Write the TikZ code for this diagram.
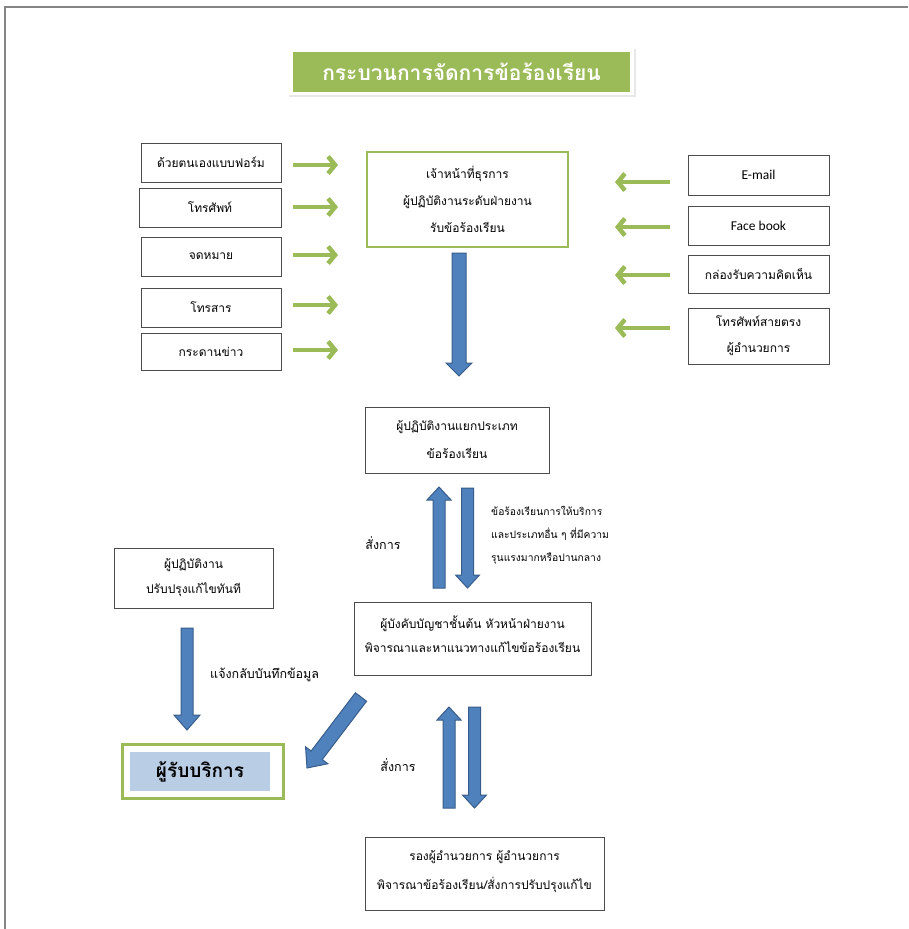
\documentclass[tikz,border=0pt]{standalone}
\usepackage{fontspec}
\setmainfont[Script=Thai]{Loma}
\newfontfamily\latinfont{Carlito}
\usetikzlibrary{arrows.meta,calc,shadows}
\definecolor{ogreen}{HTML}{9BBB59}
\definecolor{oblue}{HTML}{4F81BD}
\definecolor{oblued}{HTML}{385D8A}
\definecolor{olight}{HTML}{B9CDE5}
\definecolor{oframe}{HTML}{858585}
\tikzset{
  box/.style={draw=black!70, line width=0.9pt, fill=white, align=center, inner sep=0pt,
    font=\fontsize{12}{15}\selectfont},
  gbox/.style={box, draw=ogreen, line width=2.6pt},
  garrow/.style={draw=ogreen, line width=4.5pt, -{Straight Barb[length=7pt,width=17pt]}},
  lbl/.style={inner sep=0pt, font=\fontsize{12.5}{15}\selectfont},
  small/.style={inner sep=0pt, align=left, font=\fontsize{10.3}{23}\selectfont},
}
\newcommand\blockarr[5]{%
  \coordinate (ba-h) at ($(#2)!#5!(#1)$);
  \filldraw[fill=oblue, draw=oblued, line width=1pt, line join=miter]
    ($(#1)!#3!90:(#2)$) -- ($(ba-h)!#3!90:(#2)$) -- ($(ba-h)!#4!90:(#2)$) -- (#2)
    -- ($(ba-h)!#4!-90:(#2)$) -- ($(ba-h)!#3!-90:(#2)$) -- ($(#1)!#3!-90:(#2)$) -- cycle;
}
\begin{document}
\begin{tikzpicture}[x=1pt,y=-1pt]
\useasboundingbox (0,0) rectangle (908,929);
\fill[white] (0,0) rectangle (908,929);
% frame
\draw[oframe, line width=2pt] (5,929) -- (5,7) -- (908,7);
% title
\fill[black!9] (289,49) rectangle (636,97);
\fill[white] (287,47) rectangle (634,95);
\node[fill=ogreen, minimum width=337, minimum height=40, inner sep=0pt,
  text=white, font=\fontsize{21}{24}\selectfont\bfseries] (title) at (461.5,72) {กระบวนการจัดการข้อร้องเรียน};
% left boxes
\node[box, minimum width=140, minimum height=39] (l1) at (211,162.5) {ด้วยตนเองแบบฟอร์ม};
\node[box, minimum width=142, minimum height=39] (l2) at (210,207.5) {โทรศัพท์};
\node[box, minimum width=140, minimum height=39] (l3) at (211,256.5) {จดหมาย};
\node[box, minimum width=140, minimum height=39] (l4) at (211,307.5) {โทรสาร};
\node[box, minimum width=140, minimum height=37] (l5) at (211,351.5) {กระดานข่าว};
% right boxes
\node[box, minimum width=141, minimum height=40, font=\latinfont\fontsize{13.5}{16}\selectfont] (r1) at (758.5,175) {E-mail};
\node[box, minimum width=141, minimum height=39, font=\latinfont\fontsize{13.5}{16}\selectfont] (r2) at (758.5,225.5) {Face book};
\node[box, minimum width=141, minimum height=38] (r3) at (758.5,274) {กล่องรับความคิดเห็น};
\node[box, minimum width=141, minimum height=56] (r4) at (758.5,336) {โทรศัพท์สายตรง\\[11pt]ผู้อำนวยการ};
% center top
\node[gbox, minimum width=201, minimum height=95] (c1) at (467.5,199.5)
  {เจ้าหน้าที่ธุรการ\\[12pt]ผู้ปฏิบัติงานระดับฝ่ายงาน\\[12pt]รับข้อร้องเรียน};
% green arrows
\foreach \y [count=\i] in {165,207,255,305,350}
  \coordinate (gl\i) at (293,\y);
\foreach \y [count=\i] in {165,207,255,305,350}
  \coordinate (glt\i) at (338,\y);
\foreach \i in {1,...,5} \draw[garrow] (gl\i) -- (glt\i);
\foreach \y [count=\i] in {182,227,275,328}
  \coordinate (gr\i) at (670,\y);
\foreach \y [count=\i] in {182,227,275,328}
  \coordinate (grt\i) at (615,\y);
\foreach \i in {1,...,4} \draw[garrow] (gr\i) -- (grt\i);
% middle box
\node[box, minimum width=184, minimum height=66] (m1) at (457,440)
  {ผู้ปฏิบัติงานแยกประเภท\\[13pt]ข้อร้องเรียน};
\coordinate (a1s) at (459,253); \coordinate (a1t) at (459,376);
\blockarr{a1s}{a1t}{7pt}{13pt}{13pt}
% chief box
\node[box, minimum width=237, minimum height=73] (m2) at (472.5,638.5)
  {ผู้บังคับบัญชาชั้นต้น หัวหน้าฝ่ายงาน\\[9pt]พิจารณาและหาแนวทางแก้ไขข้อร้องเรียน\\[-6pt]\mbox{}};
\coordinate (a2s) at (439,588); \coordinate (a2t) at (439,487);
\blockarr{a2s}{a2t}{6pt}{12pt}{13pt}
\coordinate (a3s) at (467.5,488); \coordinate (a3t) at (467.5,588);
\blockarr{a3s}{a3t}{6pt}{12pt}{13pt}
\node[lbl] (t1) at (383,543) {สั่งการ};
\node[small, anchor=north west] (t2) at (491,506)
  {ข้อร้องเรียนการให้บริการ\\และประเภทอื่น ๆ ที่มีความ\\รุนแรงมากหรือปานกลาง};
% worker box
\node[box, minimum width=159, minimum height=60] (w1) at (193.5,578)
  {ผู้ปฏิบัติงาน\\[10pt]ปรับปรุงแก้ไขทันที};
\coordinate (a4s) at (187,628); \coordinate (a4t) at (187,730);
\blockarr{a4s}{a4t}{6pt}{13pt}{15pt}
\node[lbl, anchor=west] (t3) at (210,675) {แจ้งกลับบันทึกข้อมูล};
% service box
\node[draw=ogreen, line width=3pt, fill=white, minimum width=161, minimum height=54] (s1) at (202.5,771) {};
\node[fill=olight, minimum width=140, minimum height=39, inner sep=0pt,
  font=\fontsize{19}{22}\selectfont\bfseries] (s2) at (200,771.5) {ผู้รับบริการ};
\coordinate (a5s) at (361,697); \coordinate (a5t) at (307,768);
\blockarr{a5s}{a5t}{7pt}{14pt}{16pt}
% bottom
\coordinate (a6s) at (449,808); \coordinate (a6t) at (449,707);
\blockarr{a6s}{a6t}{6pt}{12pt}{13pt}
\coordinate (a7s) at (474.5,707); \coordinate (a7t) at (474.5,808);
\blockarr{a7s}{a7t}{6pt}{12pt}{13pt}
\node[lbl] (t4) at (398,765) {สั่งการ};
\node[box, minimum width=239, minimum height=73] (b1) at (484.5,873.5)
  {รองผู้อำนวยการ ผู้อำนวยการ\\[13pt]พิจารณาข้อร้องเรียน/สั่งการปรับปรุงแก้ไข\\[-8pt]\mbox{}};
\end{tikzpicture}
\end{document}
